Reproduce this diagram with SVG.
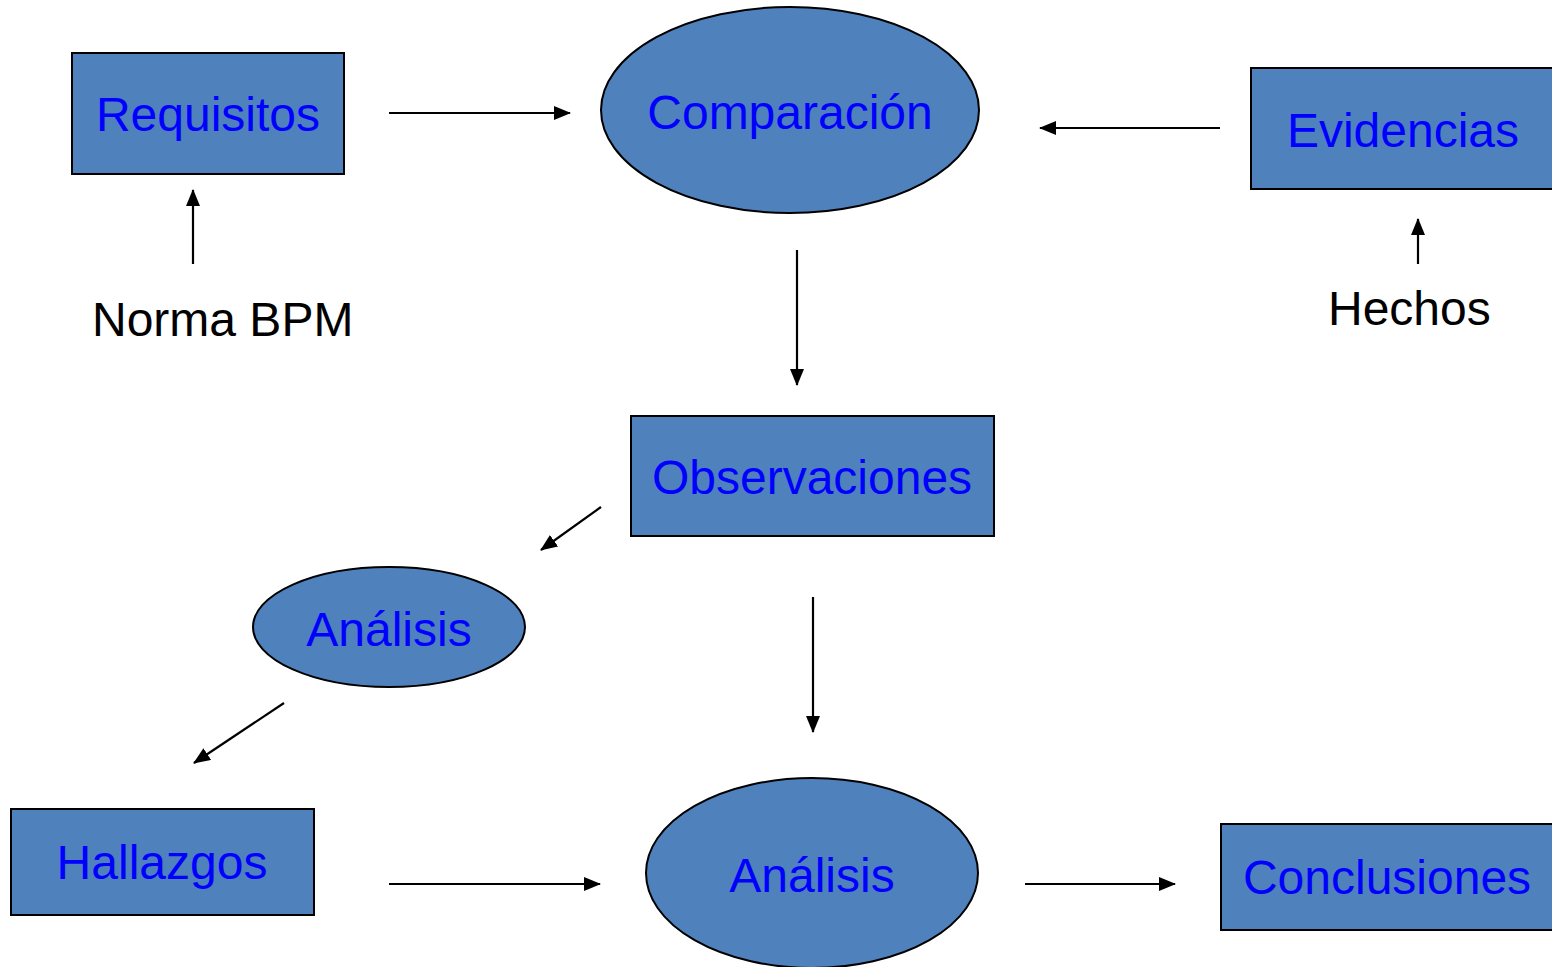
<svg xmlns="http://www.w3.org/2000/svg" width="1552" height="967" viewBox="0 0 1552 967">
<style>
.n{fill:#4F81BD;stroke:#000;stroke-width:2}
.t{font-family:"Liberation Sans",Arial,sans-serif;font-size:48px;fill:#0000FF;text-anchor:middle}
.k{font-family:"Liberation Sans",Arial,sans-serif;font-size:48px;fill:#000}
.c{stroke:#000;stroke-width:2.2;fill:none;marker-end:url(#a)}
</style>
<defs>
<marker id="a" markerUnits="userSpaceOnUse" markerWidth="17" markerHeight="14" refX="16" refY="7" orient="auto" viewBox="0 0 17 14">
<path d="M0,0 L17,7 L0,14 z" fill="#000"/>
</marker>
</defs>
<rect width="1552" height="967" fill="#fff"/>
<g id="requisitos"><rect class="n" x="72" y="53" width="272" height="121"/><text class="t" x="208" y="131">Requisitos</text></g>
<g id="comparacion"><ellipse class="n" cx="790" cy="110" rx="189" ry="103"/><text class="t" x="790" y="129">Comparación</text></g>
<g id="evidencias"><rect class="n" x="1251" y="68" width="310" height="121"/><text class="t" x="1403" y="147">Evidencias</text></g>
<g id="norma"><text class="k" x="92" y="336">Norma BPM</text></g>
<g id="hechos"><text class="k" x="1328" y="325">Hechos</text></g>
<g id="observaciones"><rect class="n" x="631" y="416" width="363" height="120"/><text class="t" x="812" y="494">Observaciones</text></g>
<g id="analisis1"><ellipse class="n" cx="389" cy="627" rx="136" ry="60"/><text class="t" x="389" y="646">Análisis</text></g>
<g id="hallazgos"><rect class="n" x="11" y="809" width="303" height="106"/><text class="t" x="162" y="879">Hallazgos</text></g>
<g id="analisis2"><ellipse class="n" cx="812" cy="873" rx="166" ry="95"/><text class="t" x="812" y="892">Análisis</text></g>
<g id="conclusiones"><rect class="n" x="1221" y="824" width="340" height="106"/><text class="t" x="1387" y="894">Conclusiones</text></g>
<g id="connectors">
<line class="c" x1="389" y1="113" x2="570" y2="113"/>
<line class="c" x1="1220" y1="128" x2="1040" y2="128"/>
<line class="c" x1="193" y1="264" x2="193" y2="190"/>
<line class="c" x1="1418" y1="264" x2="1418" y2="219"/>
<line class="c" x1="797" y1="250" x2="797" y2="385"/>
<line class="c" x1="601" y1="507" x2="541" y2="550"/>
<line class="c" x1="284" y1="703" x2="194" y2="763"/>
<line class="c" x1="813" y1="597" x2="813" y2="732"/>
<line class="c" x1="389" y1="884" x2="600" y2="884"/>
<line class="c" x1="1025" y1="884" x2="1175" y2="884"/>
</g>
</svg>
